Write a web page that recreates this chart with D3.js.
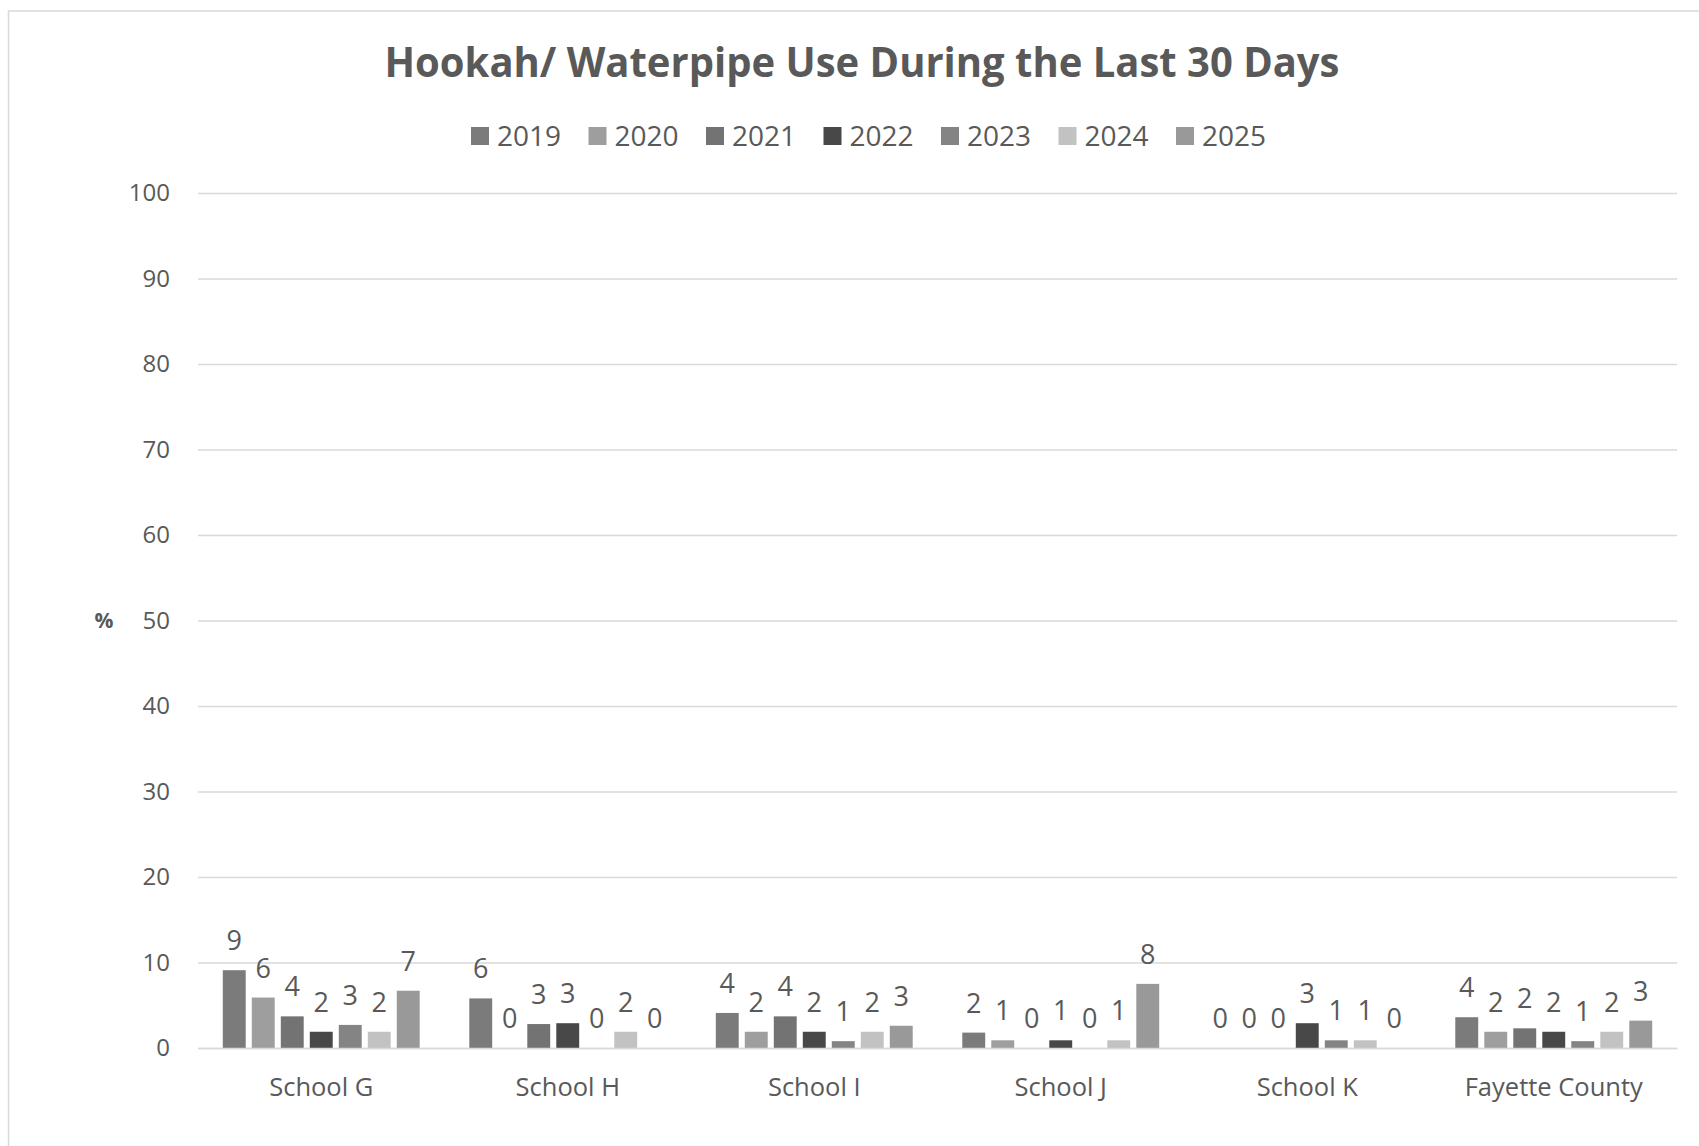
<!DOCTYPE html>
<html>
<head>
<meta charset="utf-8">
<script src="https://cdn.jsdelivr.net/npm/d3@7"></script>
<style>
  body { margin: 0; background: #fff; }
  svg { display: block; font-family: "Open Sans", sans-serif; }
</style>
</head>
<body>
<div class="chart"></div>
<script>
(function () {

	// Data
	var categories = ["School G", "School H", "School I", "School J", "School K", "Fayette County"];
	var years = ["2019", "2020", "2021", "2022", "2023", "2024", "2025"];
	var v2019 = [9.1, 5.8, 4.1, 1.8, 0, 3.6];
	var v2020 = [5.9, 0, 1.9, 0.9, 0, 1.9];
	var v2021 = [3.7, 2.8, 3.7, 0, 0, 2.3];
	var v2022 = [1.9, 2.9, 1.9, 0.9, 2.9, 1.9];
	var v2023 = [2.7, 0, 0.8, 0, 0.9, 0.8];
	var v2024 = [1.9, 1.9, 1.9, 0.9, 0.9, 1.9];
	var v2025 = [6.7, 0, 2.6, 7.5, 0, 3.2];
	var yTicks = [0, 10, 20, 30, 40, 50, 60, 70, 80, 90, 100];

	var series = [v2019, v2020, v2021, v2022, v2023, v2024, v2025];
	var colors = ["#7b7b7b", "#9e9e9e", "#737373", "#484848", "#848484", "#c2c2c2", "#999999"];

	var width = 1699, height = 1146;
	var plot = { left: 198, right: 1677, top: 193, bottom: 1048 };
	var textColor = "#595959";

	var svg = d3.select(".chart").append("svg")
		.attr("width", width)
		.attr("height", height);

	// Chart area border (runs off right and bottom edges)
	svg.append("rect")
		.attr("x", 8.5).attr("y", 11)
		.attr("width", 1720).attr("height", 1160)
		.attr("fill", "#fff")
		.attr("stroke", "#d9d9d9")
		.attr("stroke-width", 1.5);

	// Scales
	var x0 = d3.scaleBand()
		.domain(categories)
		.range([plot.left, plot.right]);

	var x1 = d3.scaleBand()
		.domain(years)
		.range([0, x0.bandwidth()])
		.paddingInner(0.21)
		.paddingOuter(0.855);

	var y = d3.scaleLinear()
		.domain([0, 100])
		.range([plot.bottom, plot.top]);

	var color = d3.scaleOrdinal().domain(years).range(colors);

	// Gridlines + y tick labels
	var yAxisG = svg.append("g")
		.attr("transform", "translate(" + plot.left + ",0)")
		.call(d3.axisLeft(y).tickValues(yTicks).tickSize(-(plot.right - plot.left)).tickPadding(28));
	yAxisG.select(".domain").remove();
	yAxisG.selectAll("line")
		.attr("stroke", "#d9d9d9")
		.attr("stroke-width", 1.3);
	yAxisG.selectAll("text")
		.attr("fill", textColor)
		.style("font-size", "24px")
		.style("font-family", "'Open Sans', sans-serif");

	// Axis title
	svg.append("text")
		.attr("x", 104)
		.attr("y", y(50))
		.attr("dy", "0.35em")
		.attr("text-anchor", "middle")
		.attr("fill", textColor)
		.style("font-size", "21px")
		.style("font-weight", "bold")
		.text("%");

	// Bars
	var rows = categories.map(function (c, i) {
		return { name: c, values: years.map(function (yr, j) { return { year: yr, value: series[j][i] }; }) };
	});

	var groups = svg.append("g").attr("id", "bars")
		.selectAll("g")
		.data(rows)
		.enter().append("g")
		.attr("transform", function (d) { return "translate(" + x0(d.name) + ",0)"; });

	groups.selectAll("rect")
		.data(function (d) { return d.values; })
		.enter().append("rect")
		.attr("x", function (d) { return x1(d.year); })
		.attr("y", function (d) { return y(d.value); })
		.attr("width", x1.bandwidth())
		.attr("height", function (d) { return y(0) - y(d.value); })
		.attr("fill", function (d) { return color(d.year); });

	// Data labels
	groups.selectAll("text")
		.data(function (d) { return d.values; })
		.enter().append("text")
		.attr("x", function (d) { return x1(d.year) + x1.bandwidth() / 2; })
		.attr("y", function (d) { return y(d.value) - 20; })
		.attr("text-anchor", "middle")
		.attr("fill", textColor)
		.style("font-size", "27px")
		.text(function (d) { return d3.format(".0f")(d.value); });

	// X axis line + category labels
	var xAxisG = svg.append("g")
		.attr("transform", "translate(0," + plot.bottom + ")")
		.call(d3.axisBottom(x0).tickSize(0).tickPadding(30));
	xAxisG.select(".domain")
		.attr("stroke", "#d9d9d9")
		.attr("stroke-width", 1.6);
	xAxisG.selectAll("text")
		.attr("fill", textColor)
		.style("font-size", "25.5px")
		.style("font-family", "'Open Sans', sans-serif");

	// Title
	svg.append("text")
		.attr("x", 862)
		.attr("y", 77)
		.attr("text-anchor", "middle")
		.attr("fill", textColor)
		.style("font-size", "42px")
		.style("font-weight", "bold")
		.attr("textLength", 955)
		.attr("lengthAdjust", "spacingAndGlyphs")
		.text("Hookah/ Waterpipe Use During the Last 30 Days");

	// Legend
	var legend = svg.append("g")
		.selectAll("g")
		.data(years)
		.enter().append("g")
		.attr("transform", function (d, i) { return "translate(" + (471 + i * 117.5) + ",127)"; });

	legend.append("rect")
		.attr("width", 18).attr("height", 18)
		.attr("fill", function (d) { return color(d); });

	legend.append("text")
		.attr("x", 26)
		.attr("y", 19)
		.attr("fill", textColor)
		.style("font-size", "28px")
		.text(function (d) { return d; });
})();
</script>
</body>
</html>
